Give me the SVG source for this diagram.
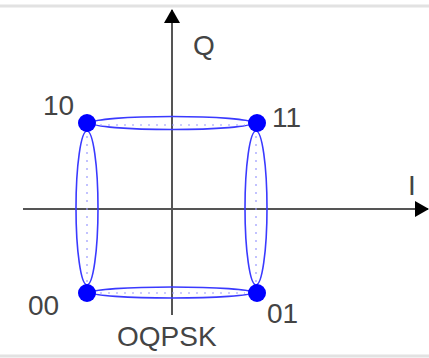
<svg xmlns="http://www.w3.org/2000/svg" width="429" height="358" viewBox="0 0 429 358">
<style>
.ax{stroke:#555;stroke-width:2;fill:none}
.ell{stroke:#3a3aff;stroke-width:1.6;fill:none}
.dot-line{stroke:#9a9aff;stroke-width:1.2;stroke-dasharray:2 6;fill:none}
.pt{fill:#0000ff}
.lbl{font-family:"Liberation Sans",Arial,sans-serif;font-size:28px;fill:#444}
.frame{stroke:#e2e2e2;stroke-width:3}
</style>
<defs>
<marker id="arr" markerWidth="14" markerHeight="16" refX="13" refY="8" orient="auto" markerUnits="userSpaceOnUse">
<path d="M0,0 L14,8 L0,16 Z" fill="#000"/>
</marker>
</defs>
<rect width="429" height="358" fill="#fff"/>
<line class="frame" x1="0" y1="6" x2="429" y2="6"/>
<line class="frame" x1="0" y1="356" x2="429" y2="356"/>
<g id="connectors">
<line class="ax" x1="23" y1="209" x2="428" y2="209" marker-end="url(#arr)"/>
<line class="ax" x1="172" y1="315" x2="172" y2="10" marker-end="url(#arr)"/>
<ellipse class="ell" cx="172" cy="123" rx="80" ry="6.5"/>
<line class="dot-line" x1="100" y1="125" x2="245" y2="125"/>
<ellipse class="ell" cx="172" cy="292.5" rx="80" ry="5.5"/>
<line class="dot-line" x1="100" y1="293" x2="245" y2="293"/>
<ellipse class="ell" cx="87" cy="208" rx="11" ry="77"/>
<line class="dot-line" x1="87" y1="136" x2="87" y2="282"/>
<ellipse class="ell" cx="256" cy="208" rx="11" ry="77"/>
<line class="dot-line" x1="256" y1="136" x2="256" y2="282"/>
</g>
<g id="p10"><circle class="pt" cx="87" cy="123" r="9"/><text class="lbl" x="43" y="115">10</text></g>
<g id="p11"><circle class="pt" cx="257" cy="123" r="9"/><text class="lbl" x="272" y="127">11</text></g>
<g id="p00"><circle class="pt" cx="87" cy="293" r="9"/><text class="lbl" x="28" y="315">00</text></g>
<g id="p01"><circle class="pt" cx="257" cy="293" r="9"/><text class="lbl" x="267" y="323">01</text></g>
<g id="labels">
<text class="lbl" x="193" y="55">Q</text>
<text class="lbl" x="408" y="195">I</text>
<text class="lbl" x="117" y="346">OQPSK</text>
</g>
</svg>
